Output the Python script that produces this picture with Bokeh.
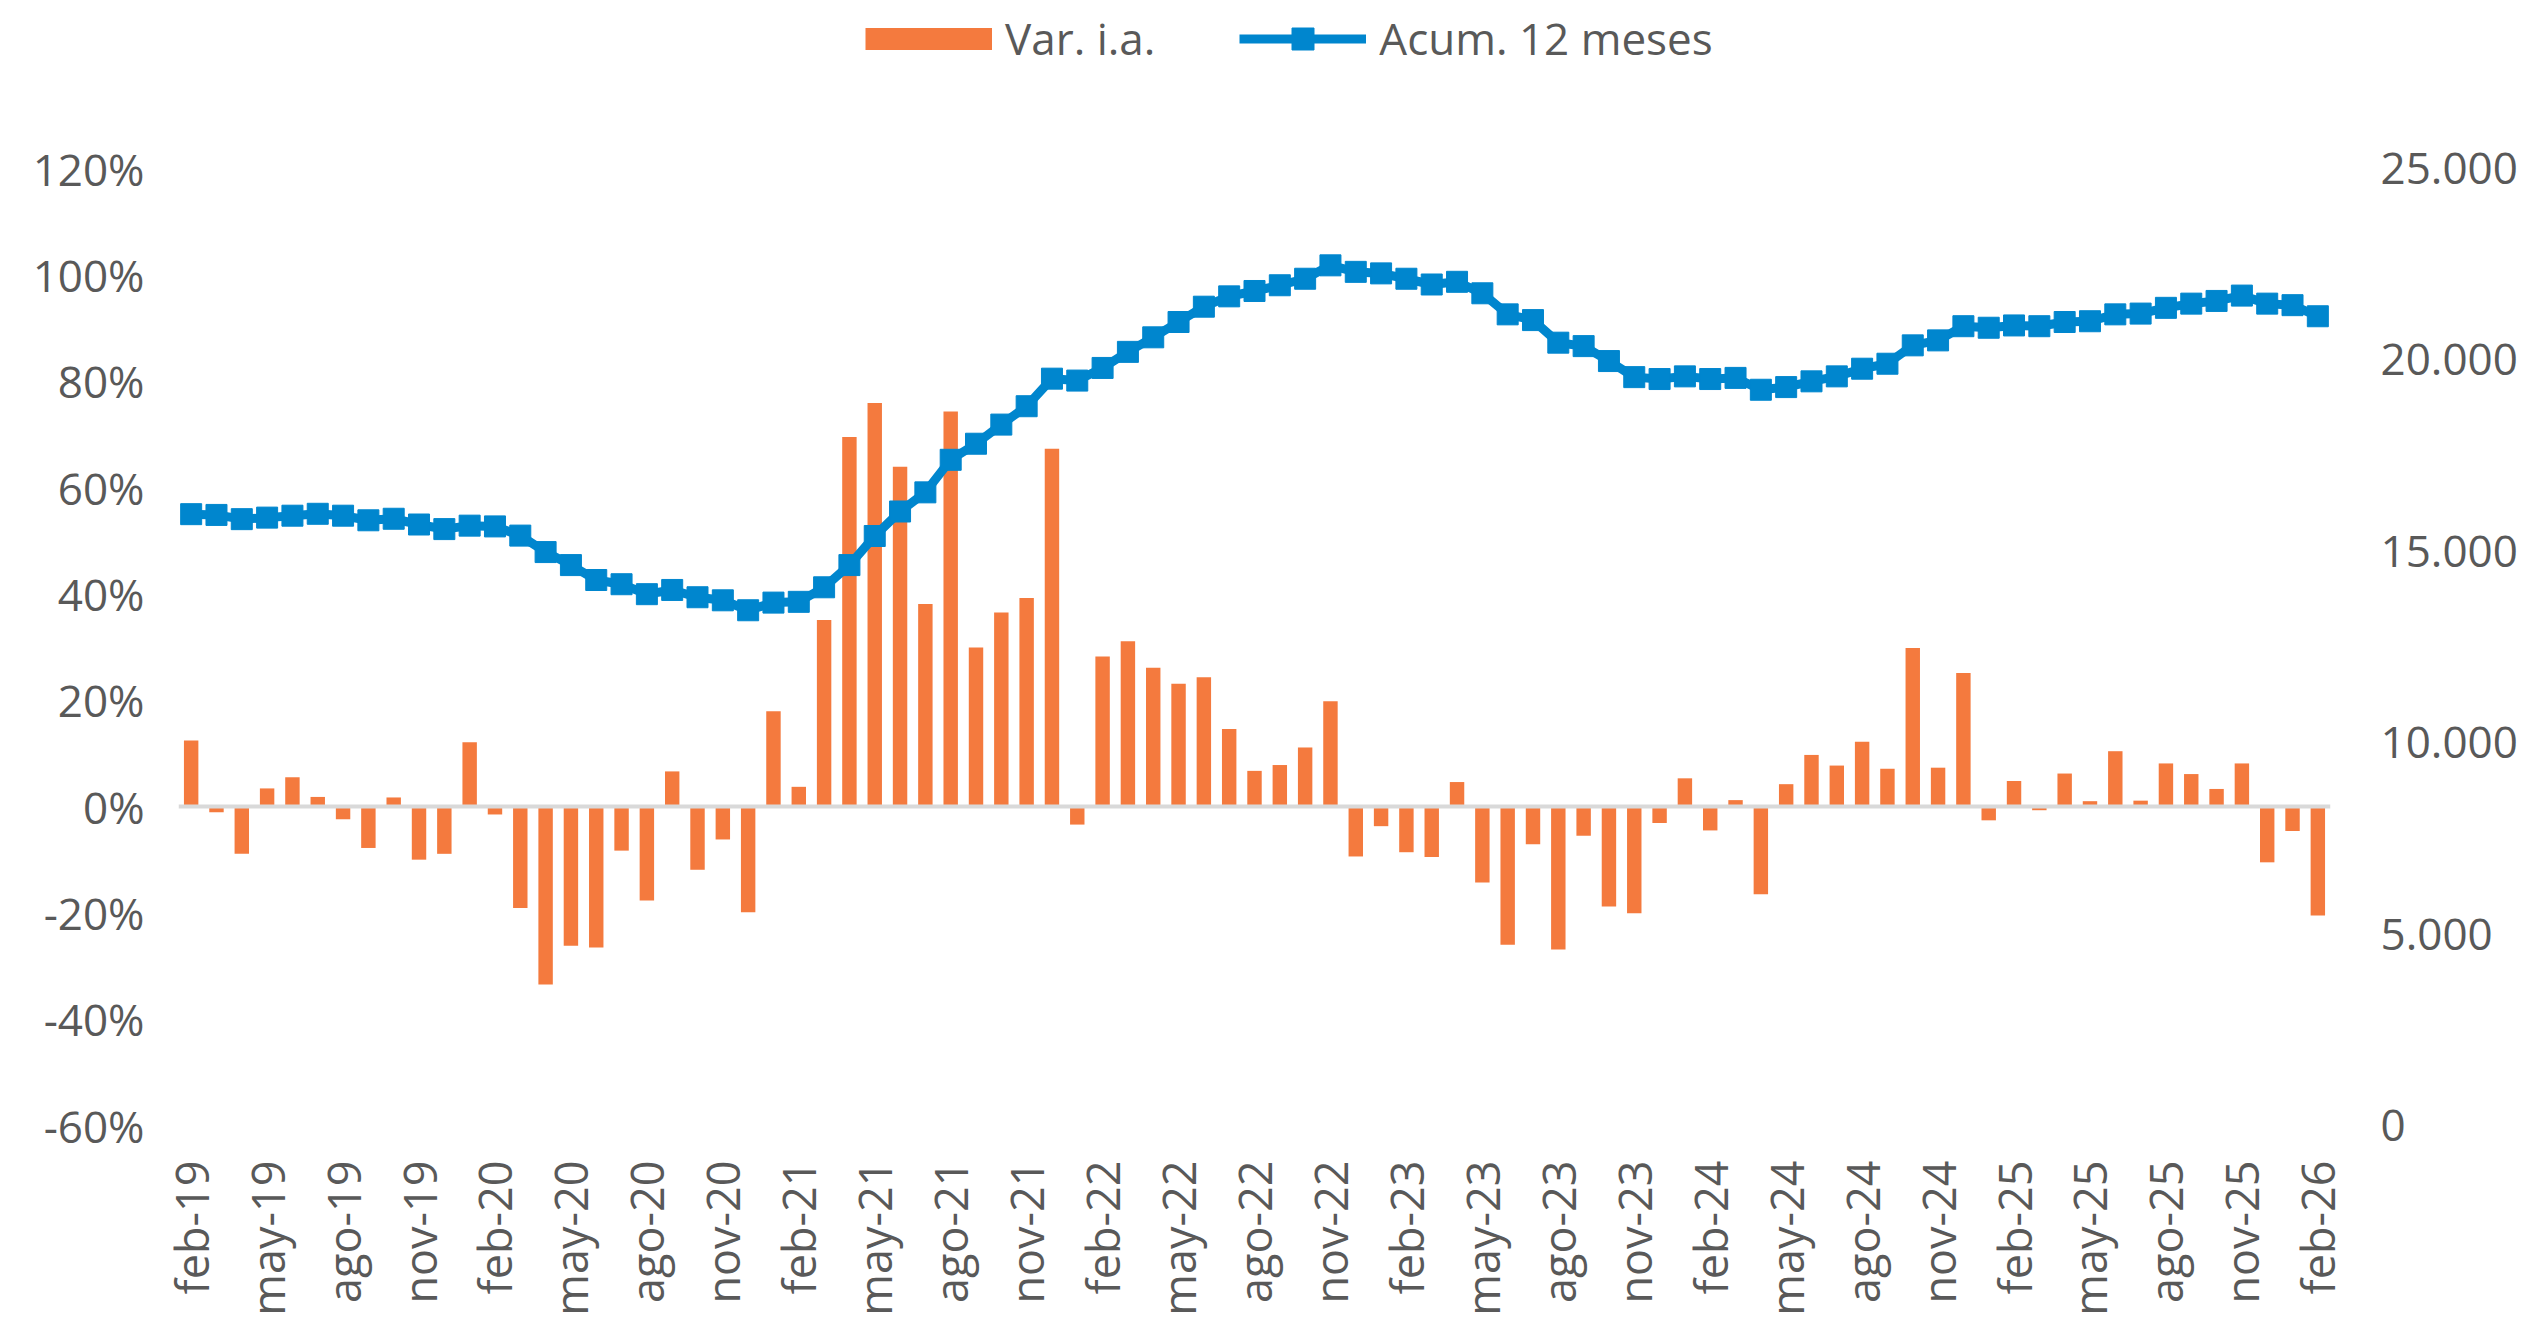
import math
from bokeh.plotting import figure
from bokeh.models import (Range1d, LinearAxis, FixedTicker, PrintfTickFormatter,
                          Span, Legend, LegendItem, ColumnDataSource)
from bokeh.embed import file_html
from bokeh.resources import INLINE

# ---------------- data ----------------
month_names = ["ene", "feb", "mar", "abr", "may", "jun", "jul", "ago", "sep", "oct", "nov", "dic"]
years = [19, 20, 21, 22, 23, 24, 25, 26]
months = []
for y in years:
    for m in month_names:
        months.append(f"{m}-{y}")
months = months[1:months.index("feb-26") + 1]   # feb-19 ... feb-26 (85 months)

var_ia = [
    12.4, -1.1, -8.9, 3.4, 5.5, 1.8, -2.4, -7.8, 1.7, -10.0, -8.9, 12.1,
    -1.5, -19.1, -33.5, -26.2, -26.5, -8.3, -17.7, 6.6, -11.9, -6.2, -19.9, 17.9,
    3.7, 35.1, 69.5, 75.9, 63.9, 38.1, 74.3, 29.9, 36.5, 39.2, 67.3, -3.4,
    28.2, 31.1, 26.1, 23.1, 24.3, 14.6, 6.7, 7.8, 11.1, 19.8, -9.4, -3.7,
    -8.6, -9.5, 4.6, -14.3, -26.0, -7.1, -26.9, -5.5, -18.8, -20.1, -3.1, 5.3,
    -4.5, 1.2, -16.5, 4.2, 9.7, 7.7, 12.2, 7.1, 29.8, 7.3, 25.1, -2.6,
    4.8, -0.7, 6.2, 1.0, 10.4, 1.1, 8.1, 6.1, 3.3, 8.1, -10.5, -4.6,
    -20.5,
]

acum_12m = [
    15970, 15950, 15840, 15880, 15930, 15980, 15930, 15810, 15850, 15700, 15580, 15670,
    15650, 15410, 14980, 14640, 14250, 14140, 13880, 13990, 13800, 13720, 13460, 13660,
    13680, 14060, 14640, 15400, 16040, 16540, 17390, 17810, 18310, 18790, 19510, 19460,
    19790, 20210, 20590, 20990, 21390, 21660, 21800, 21950, 22120, 22470, 22300, 22260,
    22120, 21970, 22040, 21740, 21190, 21040, 20450, 20360, 19970, 19550, 19500, 19570,
    19500, 19530, 19220, 19290, 19440, 19570, 19770, 19900, 20380, 20510, 20880, 20840,
    20900, 20880, 20990, 21010, 21190, 21210, 21360, 21470, 21540, 21680, 21470, 21430,
    21140,
]

left_ticks = [-60, -40, -20, 0, 20, 40, 60, 80, 100, 120]
right_ticks = [0, 5000, 10000, 15000, 20000, 25000]
right_tick_labels = ["0", "5.000", "10.000", "15.000", "20.000", "25.000"]
x_tick_idx = list(range(0, len(months), 3))
x_tick_labels = [months[i] for i in x_tick_idx]

series_names = ["Var. i.a.", "Acum. 12 meses"]

# ---------------- style ----------------
ORANGE = "#F47A3E"
BLUE = "#0086CE"
GRAY_TXT = "#595959"
FONT = "Open Sans"
FS = "44px"

# frame extends to the top of the canvas so the legend can sit inside it;
# the axes keep their ticks at -60..120 % and 0..25.000
FRAME_H = 1125
AXIS_H = 957                      # pixels between -60 % and 120 %
top_pct = 120 + (FRAME_H - AXIS_H) * 180 / AXIS_H
top_right = 25000 + (FRAME_H - AXIS_H) * 25000 / AXIS_H

src = ColumnDataSource(dict(x=list(range(len(months))), var=var_ia, acum=acum_12m, m=months))

p = figure(width=2523, height=1320, output_backend="svg", toolbar_location=None,
           x_range=Range1d(-0.5, len(months) - 0.5), y_range=Range1d(-60, top_pct),
           min_border_left=178, min_border_right=193, min_border_top=0, min_border_bottom=195)
p.outline_line_color = None
p.xgrid.visible = False
p.ygrid.visible = False
p.background_fill_color = "white"
p.border_fill_color = "white"

p.extra_y_ranges = {"right": Range1d(0, top_right)}

# zero line
zero = Span(location=0, dimension="width", line_color="#D9D9D9", line_width=4)
p.add_layout(zero)

bars = p.vbar(x="x", top="var", width=0.57, source=src, color=ORANGE, line_color=None)
line = p.line(x="x", y="acum", source=src, y_range_name="right", line_color=BLUE, line_width=9)
marks = p.scatter(x="x", y="acum", source=src, y_range_name="right", marker="square",
                  size=21, fill_color=BLUE, line_color=BLUE)

# legend swatch for the bars: a flat orange band (legend-only, draws nothing in the plot)
nan = float("nan")
bar_swatch = p.line(x=[0, 1], y=[nan, nan], line_color=ORANGE, line_width=22, line_cap="butt")

# axes
xa = p.xaxis[0]
xa.ticker = FixedTicker(ticks=x_tick_idx)
xa.major_label_overrides = {i: lab for i, lab in zip(x_tick_idx, x_tick_labels)}
xa.major_label_orientation = math.pi / 2
xa.axis_line_color = None
xa.major_tick_line_color = None
xa.minor_tick_line_color = None
xa.major_tick_out = 0
xa.major_label_standoff = 35
xa.major_label_text_font = FONT
xa.major_label_text_font_size = "45px"
xa.major_label_text_color = GRAY_TXT

ya = p.yaxis[0]
ya.ticker = FixedTicker(ticks=left_ticks)
ya.formatter = PrintfTickFormatter(format="%d%%")
ya.axis_line_color = None
ya.major_tick_line_color = None
ya.minor_tick_line_color = None
ya.major_tick_out = 0
ya.major_label_standoff = 34
ya.major_label_text_font = FONT
ya.major_label_text_font_size = FS
ya.major_label_text_color = GRAY_TXT

ra = LinearAxis(y_range_name="right", ticker=FixedTicker(ticks=right_ticks),
                major_label_overrides={t: l for t, l in zip(right_ticks, right_tick_labels)})
ra.axis_line_color = None
ra.major_tick_line_color = None
ra.minor_tick_line_color = None
ra.major_tick_out = 0
ra.major_label_standoff = 50
ra.major_label_text_font = FONT
ra.major_label_text_font_size = FS
ra.major_label_text_color = GRAY_TXT
p.add_layout(ra, "right")

legend = Legend(items=[LegendItem(label=series_names[0], renderers=[bar_swatch]),
                       LegendItem(label=series_names[1], renderers=[line, marks])],
                orientation="horizontal", location=(687, 1057),
                glyph_width=127, glyph_height=55, label_standoff=13, spacing=84,
                padding=0, margin=0, border_line_color=None, background_fill_alpha=0,
                label_text_font=FONT, label_text_font_size=FS, label_text_color=GRAY_TXT)
p.add_layout(legend, "center")

open("out.html", "w").write(file_html(p, INLINE))
